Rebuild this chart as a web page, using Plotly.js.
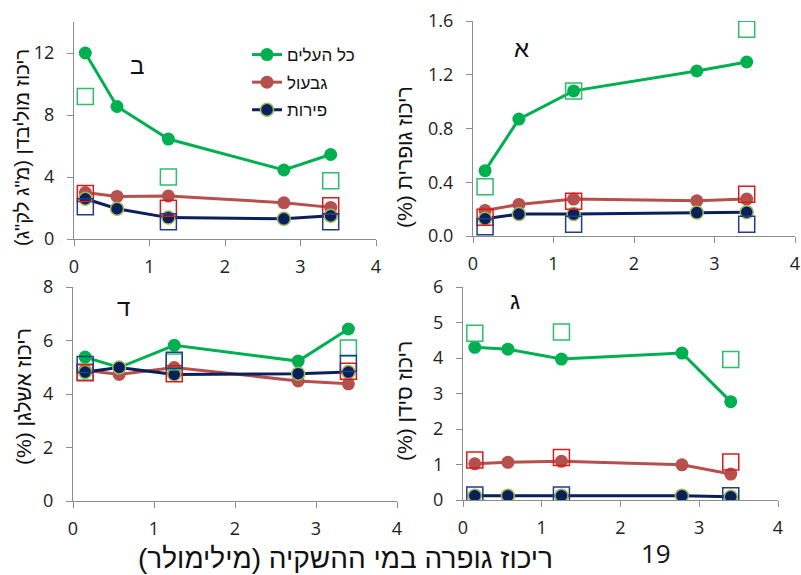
<!DOCTYPE html>
<html>
<head>
<meta charset="utf-8">
<script src="https://cdn.plot.ly/plotly-3.0.1.min.js"></script>
<style>html,body{margin:0;padding:0;background:#fff;}#chart{width:801px;height:575px;}</style>
</head>
<body>
<div id="chart"></div>
<script>
// x values (sulfur concentration in irrigation water, mM)
const xLine = [0.15, 0.57, 1.25, 2.78, 3.4];
const xSq = [0.15, 1.25, 3.4];

const seriesNames = ['כל העלים', 'גבעול', 'פירות'];

// Panel ב : Molybdenum (mg/kg)
const moLeaves = [12.0, 8.55, 6.45, 4.45, 5.45];
const moStem = [3.0, 2.75, 2.77, 2.34, 2.04];
const moFruit = [2.6, 1.95, 1.38, 1.3, 1.5];
const moLeavesSq = [9.2, 4.0, 3.76];
const moStemSq = [2.94, 1.98, 2.15];
const moFruitSq = [2.08, 1.12, 1.12];

// Panel א : Sulfur (%)
const sLeaves = [0.486, 0.87, 1.08, 1.228, 1.295];
const sStem = [0.19, 0.235, 0.275, 0.262, 0.275];
const sFruit = [0.128, 0.163, 0.163, 0.174, 0.177];
const sLeavesSq = [0.367, 1.08, 1.538];
const sStemSq = [0.14, 0.258, 0.31];
const sFruitSq = [0.069, 0.087, 0.087];

// Panel ד : Potassium (%)
const kLeaves = [5.38, 4.99, 5.82, 5.23, 6.43];
const kStem = [4.89, 4.73, 4.99, 4.49, 4.38];
const kFruit = [4.82, 4.99, 4.73, 4.76, 4.82];
const kLeavesSq = [4.82, 5.2, 5.72];
const kStemSq = [4.79, 4.76, 4.85];
const kFruitSq = [5.1, 5.26, 5.14];

// Panel ג : Calcium (%)
const caLeaves = [4.3, 4.25, 3.97, 4.14, 2.77];
const caStem = [1.02, 1.06, 1.09, 0.99, 0.73];
const caFruit = [0.12, 0.12, 0.12, 0.12, 0.09];
const caLeavesSq = [4.7, 4.73, 3.96];
const caStemSq = [1.13, 1.2, 1.07];
const caFruitSq = [0.14, 0.14, 0.12];

const yTitles = ['ריכוז מוליבדן (מ"ג לק"ג)', 'ריכוז גופרית (%)', 'ריכוז אשלגן (%)', 'ריכוז סידן (%)'];
const panelLabels = ['ב', 'א', 'ד', 'ג'];
const xTitle = 'ריכוז גופרה במי ההשקיה (מילימולר)';
const pageNum = '19';

const RLM = '\u200F';
function rtl(t) { return RLM + t + RLM; }

const FONT = 'Open Sans, DejaVu Sans, sans-serif';
const HFONT = 'Liberation Sans, Arial, DejaVu Sans, sans-serif';
const cGreen = '#00b050', cRed = '#b5504d', cNavy = '#0a1f5c', cOlive = '#9bbb59';
const sqGreen = '#2dbd6c', sqRed = '#dc1a1a', sqNavy = '#213d8a';

const panels = [
  {xa: 'x', ya: 'y', L: moLeaves, S: moStem, F: moFruit, Ls: moLeavesSq, Ss: moStemSq, Fs: moFruitSq, legend: true},
  {xa: 'x2', ya: 'y2', L: sLeaves, S: sStem, F: sFruit, Ls: sLeavesSq, Ss: sStemSq, Fs: sFruitSq},
  {xa: 'x3', ya: 'y3', L: kLeaves, S: kStem, F: kFruit, Ls: kLeavesSq, Ss: kStemSq, Fs: kFruitSq},
  {xa: 'x4', ya: 'y4', L: caLeaves, S: caStem, F: caFruit, Ls: caLeavesSq, Ss: caStemSq, Fs: caFruitSq}
];

const traces = [];
panels.forEach(p => {
  const lineDefs = [
    [p.L, cGreen, cGreen, 0],
    [p.S, cRed, cRed, 0],
    [p.F, cNavy, cNavy, 1.5]
  ];
  lineDefs.forEach((d, i) => {
    traces.push({
      x: xLine, y: d[0], xaxis: p.xa, yaxis: p.ya, type: 'scatter', mode: 'lines+markers',
      name: seriesNames[i], legendgroup: 'g' + i, showlegend: !!p.legend,
      line: {color: d[1], width: 3},
      marker: {color: d[2], size: 13, line: {color: i === 2 ? cOlive : d[2], width: d[3]}}
    });
  });
  const sqDefs = [[p.Ls, sqGreen], [p.Ss, sqRed], [p.Fs, sqNavy]];
  sqDefs.forEach((d, i) => {
    traces.push({
      x: xSq, y: d[0], xaxis: p.xa, yaxis: p.ya, type: 'scatter', mode: 'markers',
      showlegend: false,
      marker: {symbol: 'square-open', size: 16, color: d[1], line: {color: d[1], width: 1.5}}
    });
  });
});

const W = 801, H = 575;
function dx(a, b) { return [a / W, b / W]; }
function dy(top, bottom) { return [1 - bottom / H, 1 - top / H]; }

function xax(dom, anchor) {
  return {domain: dom, anchor: anchor, range: [0, 4], dtick: 1, tick0: 0, showline: true, linecolor: '#8c8c8c', linewidth: 1,
    ticks: 'outside', ticklen: 6, tickcolor: '#8c8c8c', showgrid: false, zeroline: false,
    ticklabelstandoff: 5,
    tickfont: {family: FONT, size: 18, color: '#222'}, fixedrange: true};
}
function yax(dom, anchor, range, dtick, fmt) {
  return {domain: dom, anchor: anchor, range: range, dtick: dtick, tick0: 0, showline: true, linecolor: '#8c8c8c', linewidth: 1,
    ticks: 'outside', ticklen: 6, tickcolor: '#8c8c8c', showgrid: false, zeroline: false, tickformat: fmt || '',
    ticklabelstandoff: 9,
    tickfont: {family: FONT, size: 18, color: '#222'}, fixedrange: true};
}

const annotations = [];
const titlePos = [[22, 148], [405, 157], [23, 397], [405, 401]];
const titleSizes = [20, 21, 21, 21];
yTitles.forEach((t, i) => {
  annotations.push({text: rtl(t), xref: 'paper', yref: 'paper', x: titlePos[i][0] / W, y: 1 - titlePos[i][1] / H,
    xanchor: 'center', yanchor: 'middle', textangle: -90, showarrow: false,
    font: {family: HFONT, size: titleSizes[i], color: '#111'}});
});
const labelPos = [[137, 65], [521, 49], [124, 307], [515, 300]];
panelLabels.forEach((t, i) => {
  annotations.push({text: t, xref: 'paper', yref: 'paper', x: labelPos[i][0] / W, y: 1 - labelPos[i][1] / H,
    xanchor: 'center', yanchor: 'middle', showarrow: false, font: {family: HFONT, size: 24, color: '#111'}});
});
annotations.push({text: rtl(xTitle), xref: 'paper', yref: 'paper', x: 345 / W, y: 1 - 558 / H, xanchor: 'center', yanchor: 'middle',
  showarrow: false, font: {family: HFONT, size: 28, color: '#111'}});
annotations.push({text: pageNum, xref: 'paper', yref: 'paper', x: 656 / W, y: 1 - 553 / H, xanchor: 'center', yanchor: 'middle',
  showarrow: false, font: {family: FONT, size: 26, color: '#111'}});

const layout = {
  width: W, height: H, margin: {l: 0, r: 0, t: 0, b: 0}, paper_bgcolor: '#fff', plot_bgcolor: 'rgba(0,0,0,0)',
  showlegend: true,
  legend: {x: 247 / W, y: 1 - 37 / H, xanchor: 'left', yanchor: 'top', bgcolor: 'rgba(0,0,0,0)',
    font: {family: HFONT, size: 17, color: '#111'}, tracegroupgap: 2.5, itemwidth: 30},
  xaxis: xax(dx(74, 376), 'y'), yaxis: yax(dy(22, 239), 'x', [0, 14], 4),
  xaxis2: xax(dx(473, 795), 'y2'), yaxis2: yax(dy(21, 236), 'x2', [0, 1.6], 0.4, '.1f'),
  xaxis3: xax(dx(73, 397), 'y3'), yaxis3: yax(dy(287, 501), 'x3', [0, 8], 2),
  xaxis4: xax(dx(463, 778), 'y4'), yaxis4: yax(dy(287, 500), 'x4', [0, 6], 1),
  annotations: annotations
};

Plotly.newPlot('chart', traces, layout, {displayModeBar: false, staticPlot: true});
</script>
</body>
</html>
